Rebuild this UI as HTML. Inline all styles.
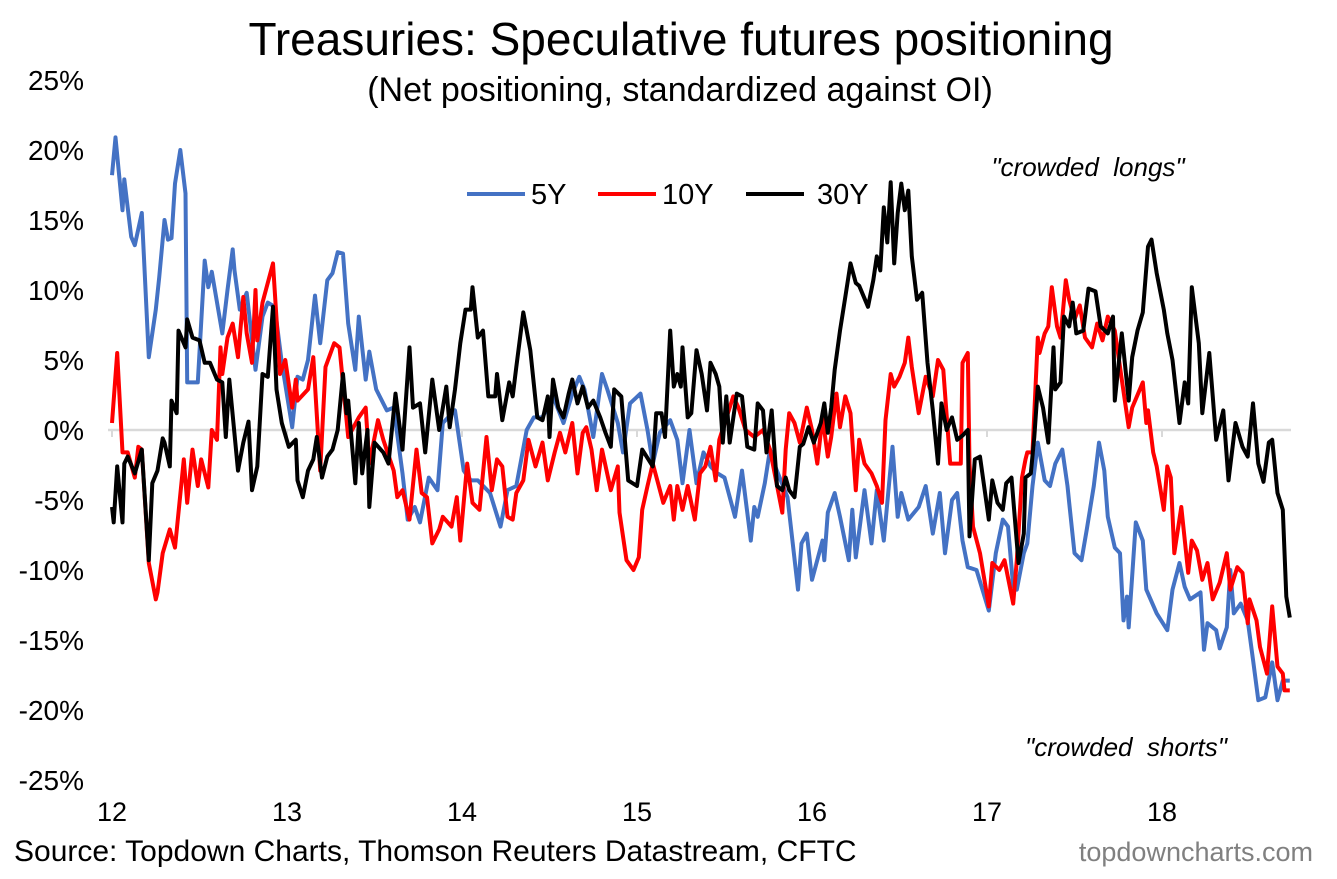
<!DOCTYPE html>
<html><head><meta charset="utf-8"><style>
html,body{margin:0;padding:0;background:#fff;}
svg{display:block;font-family:"Liberation Sans",Arial,sans-serif;}
</style></head><body>
<svg id="chart" width="1337" height="879" viewBox="0 0 1337 879" xmlns="http://www.w3.org/2000/svg">
<rect width="1337" height="879" fill="#fff"/>
<text x="681" y="55" font-size="46" text-anchor="middle" fill="#000">Treasuries: Speculative futures positioning</text>
<text x="680" y="101" font-size="34" text-anchor="middle" fill="#000">(Net positioning, standardized against OI)</text>
<g id="yaxis"></g>
<g id="xaxis"></g>
<g id="series"></g>
<g>
<line x1="467" y1="194" x2="525" y2="194" stroke="#4472C4" stroke-width="4"/>
<text x="531" y="204" font-size="29">5Y</text>
<line x1="598" y1="194" x2="656" y2="194" stroke="#FF0000" stroke-width="4"/>
<text x="662" y="204" font-size="29">10Y</text>
<line x1="746" y1="194" x2="804" y2="194" stroke="#000" stroke-width="4"/>
<text x="817" y="204" font-size="29">30Y</text>
</g>
<text x="1088" y="176" font-size="26" font-style="italic" text-anchor="middle">"crowded&#160;&#160;longs"</text>
<text x="1126" y="756" font-size="26" font-style="italic" text-anchor="middle">"crowded&#160;&#160;shorts"</text>
<text x="14" y="861" font-size="30">Source: Topdown Charts, Thomson Reuters Datastream, CFTC</text>
<text x="1313" y="861" font-size="27" text-anchor="end" fill="#808080">topdowncharts.com</text>
</svg>
<script>
const yTicks=[25,20,15,10,5,0,-5,-10,-15,-20,-25];
const xTicks=[12,13,14,15,16,17,18];
const dates5Y=[12.00,12.02,12.06,12.07,12.11,12.13,12.17,12.21,12.25,12.27,12.30,12.32,12.34,12.36,12.39,12.42,12.43,12.49,12.53,12.55,12.57,12.63,12.66,12.69,12.70,12.73,12.77,12.82,12.86,12.89,12.93,12.97,13.03,13.06,13.09,13.12,13.16,13.19,13.23,13.26,13.29,13.32,13.35,13.39,13.41,13.45,13.47,13.51,13.57,13.61,13.66,13.69,13.73,13.76,13.81,13.86,13.89,13.96,14.01,14.05,14.09,14.16,14.22,14.26,14.31,14.37,14.41,14.46,14.52,14.58,14.63,14.67,14.70,14.75,14.80,14.83,14.89,14.92,14.96,15.02,15.06,15.09,15.13,15.19,15.23,15.26,15.30,15.34,15.38,15.42,15.46,15.50,15.56,15.60,15.65,15.67,15.69,15.73,15.76,15.79,15.86,15.92,15.94,15.97,16.00,16.06,16.07,16.09,16.13,16.16,16.21,16.23,16.25,16.30,16.34,16.37,16.41,16.46,16.49,16.51,16.55,16.61,16.65,16.69,16.73,16.76,16.80,16.83,16.86,16.89,16.94,17.01,17.05,17.09,17.12,17.15,17.17,17.21,17.23,17.26,17.29,17.33,17.36,17.39,17.43,17.46,17.47,17.50,17.54,17.57,17.61,17.64,17.67,17.69,17.73,17.76,17.78,17.80,17.81,17.85,17.89,17.91,17.97,18.03,18.06,18.10,18.13,18.16,18.22,18.24,18.26,18.31,18.33,18.37,18.39,18.41,18.45,18.49,18.52,18.55,18.59,18.63,18.66,18.69,18.73];
const values5Y=[18.2,20.9,15.7,17.9,13.8,13.2,15.5,5.2,8.6,10.9,15,13.6,13.7,17.6,20,16.9,3.4,3.4,12.1,10.2,11.3,6.9,10,12.9,11.4,8.6,9.8,4.3,8.1,9.1,8.8,4.8,0.2,3.8,3.6,5,9.6,6.2,10.7,11.2,12.7,12.6,7.6,4.3,8.1,3.6,5.6,2.9,1.4,1.6,-3.1,-6.4,-5.5,-6.6,-3.4,-4.3,0.5,1.4,-2.9,-3.6,-3.6,-4.5,-6.9,-4.3,-4,0,0.9,0.9,2.4,0.5,2.6,3.8,2.9,-0.5,4,2.9,0.5,-1.6,1.9,2.6,0,-2.4,-0.2,0.7,-0.7,-3.8,0,-3.8,-1.6,-2.6,-3.1,-3.4,-6.2,-2.9,-7.9,-5.5,-6.2,-3.8,-1.4,-2.6,-4.8,-11.4,-8.1,-7.4,-10.7,-7.9,-9.3,-5.9,-4.5,-6.2,-9.3,-5.7,-9.1,-4.3,-8.1,-4.3,-7.9,-1.2,-6.2,-4.5,-6.4,-5.5,-4,-7.4,-4.5,-8.8,-5,-4.5,-7.9,-9.8,-10,-12.9,-8.8,-6.4,-6.9,-11.2,-11.4,-8.8,-8.1,-4,-0.9,-3.6,-4,-2.4,-1.4,-4,-5.2,-8.8,-9.3,-7.1,-4,-0.9,-2.9,-6.2,-8.4,-8.8,-13.6,-11.9,-14.1,-6.6,-7.9,-11.4,-13.1,-14.3,-11.4,-9.5,-11.2,-12.1,-11.6,-15.7,-13.8,-14.3,-15.6,-14.1,-10,-13.1,-12.4,-13.6,-16.4,-19.3,-19.1,-16.6,-19.3,-17.9,-17.9];
const dates10Y=[12.00,12.03,12.06,12.09,12.13,12.15,12.17,12.21,12.25,12.26,12.29,12.33,12.36,12.41,12.43,12.46,12.49,12.51,12.55,12.57,12.60,12.62,12.63,12.66,12.69,12.72,12.75,12.77,12.80,12.82,12.83,12.86,12.92,12.96,12.99,13.03,13.05,13.06,13.12,13.15,13.19,13.22,13.27,13.30,13.35,13.41,13.45,13.47,13.52,13.55,13.61,13.63,13.66,13.70,13.74,13.77,13.80,13.83,13.87,13.89,13.94,13.97,13.99,14.03,14.06,14.10,14.14,14.17,14.20,14.23,14.26,14.29,14.31,14.35,14.38,14.42,14.46,14.49,14.53,14.56,14.59,14.63,14.66,14.69,14.71,14.74,14.77,14.80,14.85,14.89,14.90,14.94,14.98,15.01,15.03,15.06,15.09,15.15,15.19,15.21,15.23,15.26,15.29,15.33,15.36,15.39,15.42,15.45,15.47,15.55,15.58,15.62,15.67,15.72,15.76,15.83,15.85,15.87,15.90,15.93,15.97,16.00,16.03,16.06,16.09,16.11,16.14,16.16,16.19,16.22,16.25,16.27,16.30,16.34,16.37,16.40,16.42,16.45,16.47,16.50,16.53,16.55,16.57,16.61,16.65,16.69,16.72,16.75,16.79,16.85,16.86,16.89,16.90,16.92,16.96,17.01,17.03,17.07,17.10,17.15,17.17,17.20,17.22,17.23,17.26,17.29,17.30,17.33,17.35,17.37,17.40,17.42,17.45,17.47,17.50,17.53,17.56,17.60,17.63,17.66,17.69,17.73,17.77,17.81,17.83,17.89,17.91,17.92,17.95,17.97,18.01,18.03,18.05,18.07,18.11,18.15,18.17,18.20,18.23,18.26,18.29,18.33,18.37,18.39,18.43,18.46,18.49,18.50,18.54,18.56,18.60,18.63,18.66,18.69,18.70,18.73];
const values10Y=[0.5,5.5,-1.6,-1.6,-3.4,-1.2,-1.4,-9.5,-12.1,-11.6,-8.8,-7.1,-8.4,-2.1,-5.2,-1.4,-4,-2.1,-4.1,0,-0.7,5.9,4,6.6,7.6,5.2,9.5,6.9,4.8,10,6.4,9.1,11.9,4,5,1.6,3.6,2.1,2.9,5.2,-2.9,4.5,6.2,5.9,-0.5,0.9,1.6,-2.4,0.7,-0.7,-2.9,-4.8,-4.3,-6.4,-1.4,-4.5,-4.8,-8.1,-7.1,-6.2,-6.9,-4.8,-7.9,-2.4,-5.2,-5.7,-0.5,-4.3,-2.1,-2.6,-6.2,-6.4,-4.5,-3.6,-0.7,-2.6,-0.9,-3.6,-1.6,-0.2,-1.6,0.5,-3.1,-0.2,0.2,-1.4,-4.3,-1.4,-4.3,-2.6,-5.9,-9.3,-10,-9.1,-5.7,-4,-2.4,-5.2,-4,-6.4,-4,-5.7,-4,-6.4,-3.1,-2.6,-1.2,-3.6,-0.7,2.4,1.6,0,-0.5,0,-1.4,-5.9,-1.4,1.2,0.5,-0.9,1.6,0,-2.4,0.9,-1.9,-0.5,2.6,0.2,2.4,1.2,-4.3,-0.7,-2.4,-3.1,-4,-5.2,0.7,4,3.1,3.8,4.8,6.6,4.5,1.2,3.8,2.4,5,4.3,-2.4,-2.4,4.8,5.5,-2.4,-6.9,-8.8,-12.6,-9.5,-10,-9.3,-12.4,-9.3,-3.4,-2.1,-1.6,-1.6,6.6,5.5,6.9,7.4,10.2,7.4,6.6,10.7,9.3,7.9,8.9,6.6,5.9,7.6,6.4,8.1,7.1,3.6,0.2,1.6,3.4,0.5,1.4,-1.6,-2.6,-5.7,-2.6,-3.4,-8.8,-5.5,-10.2,-7.9,-8.6,-10.7,-9.5,-12.1,-10.9,-8.8,-11.4,-9.8,-10.2,-13.8,-12.1,-13.6,-15.5,-17.4,-12.6,-16.9,-17.4,-18.6,-18.6];
const dates30Y=[12.00,12.01,12.03,12.06,12.07,12.09,12.13,12.17,12.21,12.23,12.26,12.29,12.30,12.33,12.34,12.37,12.38,12.42,12.43,12.46,12.50,12.53,12.56,12.60,12.63,12.65,12.67,12.72,12.75,12.78,12.80,12.83,12.86,12.89,12.92,12.94,12.97,13.01,13.05,13.06,13.09,13.12,13.15,13.17,13.20,13.23,13.26,13.29,13.32,13.34,13.35,13.39,13.41,13.43,13.46,13.47,13.50,13.55,13.58,13.62,13.66,13.70,13.72,13.76,13.79,13.83,13.87,13.91,13.93,13.96,13.99,14.02,14.05,14.06,14.09,14.12,14.15,14.19,14.20,14.23,14.27,14.29,14.31,14.35,14.39,14.43,14.46,14.49,14.50,14.52,14.55,14.58,14.61,14.63,14.66,14.69,14.72,14.75,14.79,14.82,14.85,14.87,14.91,14.95,15.00,15.03,15.09,15.11,15.14,15.16,15.19,15.21,15.23,15.25,15.26,15.29,15.31,15.34,15.37,15.40,15.42,15.45,15.47,15.49,15.51,15.53,15.57,15.60,15.63,15.67,15.69,15.72,15.74,15.77,15.80,15.83,15.85,15.87,15.90,15.93,15.95,15.98,16.01,16.05,16.07,16.09,16.11,16.13,16.16,16.19,16.22,16.25,16.27,16.32,16.35,16.37,16.39,16.41,16.43,16.45,16.47,16.49,16.51,16.53,16.55,16.57,16.60,16.63,16.66,16.69,16.72,16.74,16.77,16.80,16.83,16.86,16.89,16.90,16.93,16.96,17.01,17.03,17.06,17.09,17.11,17.14,17.18,17.21,17.22,17.25,17.27,17.29,17.32,17.35,17.38,17.39,17.42,17.44,17.47,17.49,17.51,17.55,17.58,17.62,17.65,17.69,17.72,17.73,17.77,17.81,17.83,17.86,17.89,17.92,17.94,17.97,18.01,18.03,18.06,18.10,18.13,18.15,18.17,18.21,18.23,18.27,18.31,18.35,18.38,18.42,18.46,18.49,18.52,18.55,18.58,18.61,18.63,18.66,18.69,18.71,18.73];
const values30Y=[-5.5,-6.6,-2.6,-6.6,-2.4,-1.9,-3.1,-1.4,-9.3,-3.8,-2.9,-0.6,-0.9,-2.6,2.1,1.2,7.1,5.9,7.9,6.6,6.4,4.8,4.8,3.6,3.4,-0.5,3.6,-2.9,-0.9,0.6,-4.3,-2.6,4,3.8,8.8,2.9,0.5,-1.2,-0.7,-3.6,-4.8,-2.9,-2.1,-0.5,-3.4,-1.9,-1.4,0,4,1.2,2.1,-3.8,0.5,-3.1,0,-5.5,-0.9,-1.6,-2.4,2.6,-1.4,5.9,1.6,1.9,-1.6,3.6,0,3.1,0.2,2.9,6.2,8.6,8.6,10.2,6.6,7.1,2.4,2.4,4,0.7,3.4,2.4,4.5,8.4,5.7,0.9,0.7,2.4,-0.5,3.6,1.6,0.9,2.6,3.6,1.9,3.1,1.6,2.1,0.9,-0.2,-1.2,2.9,2.4,-3.6,-4,-1.4,-2.6,1.2,1.2,-0.5,7.1,3.1,4,3.1,5.9,0.9,1.2,5.7,4,1.4,4.8,4,3.1,-0.9,2.4,-0.9,2.6,2.4,-1.2,-1.4,1.9,1.4,-1.6,1.4,-4,-4.3,-3.4,-4.3,-4.8,-1.2,-1,0.2,-0.9,0.5,1.9,-0.2,1.6,4.3,7.1,9.5,11.9,10.5,10.3,8.8,10.7,12.4,11.4,15.9,13.4,17.7,11.9,15.5,17.6,15.7,17.1,12.4,9.3,9.8,4.8,1.4,-2.4,1.9,0,0.9,-0.7,-0.4,0,-7.6,-2.1,-1.9,-6.4,-3.6,-5.2,-5.7,-3.8,-3.4,-9.5,-7.4,-3.4,-3.1,-0.5,3.1,1.6,-0.9,5.9,2.9,3.4,8.1,7.4,9.1,6.9,7.1,10.1,9.9,7.4,6.9,8.1,2.1,6.9,2.1,5.2,7.1,8.4,13.1,13.6,11.2,8.6,6.9,5,0.5,3.4,1.9,10.2,6.2,1.2,5.5,-0.7,1.4,-3.6,0.5,-1.2,-1.9,1.9,-2.4,-3.7,-0.9,-0.7,-4.5,-5.7,-11.9,-13.4];

const NS='http://www.w3.org/2000/svg';
const X0=112, PXYEAR=175, Y0=430, PXPCT=14;
function xScale(t){return X0+(t-12)*PXYEAR;}
function yScale(v){return Y0-v*PXPCT;}
const yg=document.getElementById('yaxis');
yTicks.forEach(v=>{
  const t=document.createElementNS(NS,'text');
  
  
  t.setAttribute('x',84);t.setAttribute('y',yScale(v)+10);
  t.setAttribute('font-size','28');t.setAttribute('text-anchor','end');
  t.textContent=v+'%';yg.appendChild(t);
});
const xg=document.getElementById('xaxis');
const zl=document.createElementNS(NS,'line');


zl.setAttribute('x1',108);zl.setAttribute('x2',1291);zl.setAttribute('y1',Y0);zl.setAttribute('y2',Y0);
zl.setAttribute('stroke','#d9d9d9');zl.setAttribute('stroke-width','2.5');xg.appendChild(zl);
xTicks.forEach(v=>{
  const tk=document.createElementNS(NS,'line');
  
  
  tk.setAttribute('x1',xScale(v));tk.setAttribute('x2',xScale(v));tk.setAttribute('y1',Y0);tk.setAttribute('y2',Y0+7);
  tk.setAttribute('stroke','#d9d9d9');tk.setAttribute('stroke-width','2');xg.appendChild(tk);
  const t=document.createElementNS(NS,'text');
  
  
  t.setAttribute('x',xScale(v));t.setAttribute('y',821);
  t.setAttribute('font-size','27');t.setAttribute('text-anchor','middle');
  t.textContent=v;xg.appendChild(t);
});
const sg=document.getElementById('series');
function draw(dates,vals,color,name){
  const p=document.createElementNS(NS,'path');
  
  
  let d='';
  for(let i=0;i<vals.length;i++){d+=(i?'L':'M')+xScale(dates[i]).toFixed(1)+','+yScale(vals[i]).toFixed(1);}
  p.setAttribute('d',d);p.setAttribute('fill','none');p.setAttribute('stroke',color);
  p.setAttribute('stroke-width','4');p.setAttribute('stroke-linejoin','round');
  sg.appendChild(p);
}
draw(dates5Y,values5Y,'#4472C4','series-5y-line');
draw(dates10Y,values10Y,'#FF0000','series-10y-line');
draw(dates30Y,values30Y,'#000000','series-30y-line');
</script>
</body></html>
